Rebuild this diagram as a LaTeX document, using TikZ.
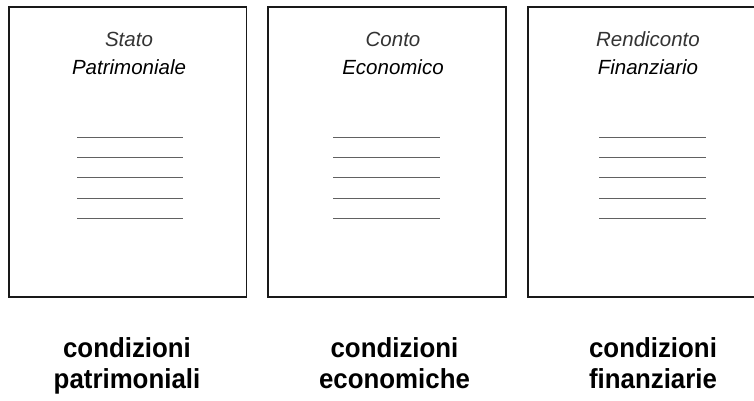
\documentclass[tikz,border=0pt]{standalone}
\usepackage{fontspec}
\setmainfont{Liberation Sans}
\newfontfamily\capfont[FakeStretch=0.94]{Liberation Sans}
\usepackage{xcolor}
\usepackage{tikz}

\begin{document}
\begin{tikzpicture}[x=1pt,y=-1pt,
  title/.style={inner sep=0pt,anchor=base,align=center,font=\fontsize{20.5}{28}\selectfont\itshape},
  label/.style={inner sep=0pt,anchor=base,align=center,font=\capfont\fontsize{27.5}{31}\selectfont\bfseries},
  row/.style={draw=black!62,line width=1.6pt}]
\clip (0,0) rectangle (754,401);
% sheets
\draw[line width=1.5pt,draw=black!90] (9,7) rectangle (246.5,297);
\draw[line width=1.5pt,draw=black!90] (268,7) rectangle (506,297);
\draw[line width=1.5pt,draw=black!90] (528,7) rectangle (766,297);
\node[title] (sp) at (129,75) {\textcolor{black!80}{Stato}\\Patrimoniale};
\node[title] (ce) at (393,75) {\textcolor{black!80}{Conto}\\Economico};
\node[title] (rf) at (648,75) {\textcolor{black!80}{Rendiconto}\\Finanziario};
% rows
\draw[row] (77,137.5) -- (183,137.5);
\draw[row] (77,157.5) -- (183,157.5);
\draw[row] (77,177.5) -- (183,177.5);
\draw[row] (77,198.5) -- (183,198.5);
\draw[row] (77,218.5) -- (183,218.5);
\draw[row] (333,137.5) -- (440,137.5);
\draw[row] (333,157.5) -- (440,157.5);
\draw[row] (333,177.5) -- (440,177.5);
\draw[row] (333,198.5) -- (440,198.5);
\draw[row] (333,218.5) -- (440,218.5);
\draw[row] (599,137.5) -- (706,137.5);
\draw[row] (599,157.5) -- (706,157.5);
\draw[row] (599,177.5) -- (706,177.5);
\draw[row] (599,198.5) -- (706,198.5);
\draw[row] (599,218.5) -- (706,218.5);
% captions
\node[label] (cp) at (127,388) {condizioni\\patrimoniali};
\node[label] (cec) at (394.5,388) {condizioni\\economiche};
\node[label] (cf) at (653,388) {condizioni\\finanziarie};
\end{tikzpicture}
\end{document}
